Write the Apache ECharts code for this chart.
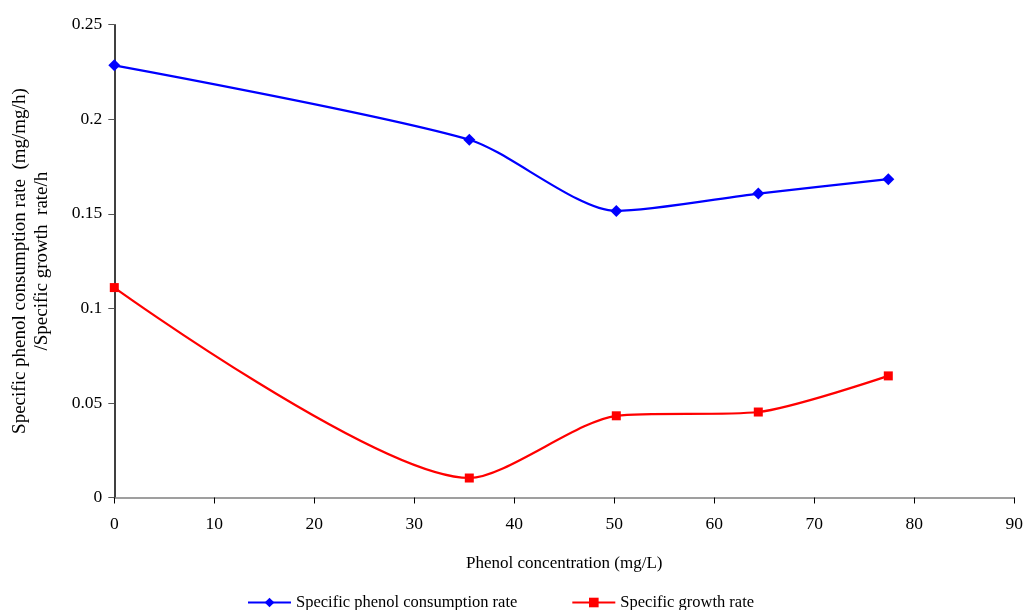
<!DOCTYPE html>
<html>
<head>
<meta charset="utf-8">
<script src="https://cdn.jsdelivr.net/npm/echarts@6/dist/echarts.min.js"></script>
<style>html,body{margin:0;padding:0;background:#fff;}#c{width:1024px;height:610px;}</style>
</head>
<body>
<div id="c"></div>
<script>
const concentration = [0, 35.5, 50.2, 64.4, 77.4];
const consumptionRate = [0.2285, 0.1892, 0.1515, 0.1607, 0.1683];
const growthRate = [0.111, 0.0103, 0.0432, 0.0452, 0.0643];
const seriesNames = ['Specific phenol consumption rate', 'Specific growth rate'];
const xTitle = 'Phenol concentration (mg/L)';
const yTitle = 'Specific phenol consumption rate  (mg/mg/h)\n/Specific growth  rate/h';

const font = 'Liberation Serif';
const chart = echarts.init(document.getElementById('c'));
chart.setOption({
  animation: false,
  backgroundColor: '#fff',
  textStyle: {fontFamily: font},
  grid: {left: 114.3, right: 9.7, top: 24.7, bottom: 112.5, containLabel: false, outerBoundsMode: 'none'},
  xAxis: {
    type: 'value', min: 0, max: 90, interval: 10,
    name: xTitle, nameLocation: 'middle', nameGap: 58,
    nameTextStyle: {fontFamily: font, fontSize: 17, color: '#000'},
    axisLine: {show: true, onZero: false, lineStyle: {color: '#808080', width: 1.5}},
    axisTick: {show: true, length: 6, lineStyle: {color: '#000'}},
    axisLabel: {fontFamily: font, fontSize: 17.5, color: '#000', margin: 18},
    splitLine: {show: false}
  },
  yAxis: {
    type: 'value', min: 0, max: 0.25, interval: 0.05,
    name: yTitle, nameLocation: 'middle', nameGap: 61, nameRotate: 90,
    nameTextStyle: {fontFamily: font, fontSize: 19, color: '#000', lineHeight: 22, align: 'center'},
    axisLine: {show: true, onZero: false, lineStyle: {color: '#000', width: 1.5}},
    axisTick: {show: true, length: 6, lineStyle: {color: '#555'}},
    axisLabel: {fontFamily: font, fontSize: 17.5, color: '#000', margin: 12},
    splitLine: {show: false}
  },
  legend: {
    top: 589, left: 242,
    itemWidth: 43, itemHeight: 12, itemGap: 54,
    textStyle: {fontFamily: font, fontSize: 16.5, color: '#000'},
    data: seriesNames
  },
  series: [
    {
      name: seriesNames[0], type: 'line', smooth: 0.25,
      data: concentration.map((x, i) => [x, consumptionRate[i]]),
      symbol: 'diamond', symbolSize: 12,
      lineStyle: {color: '#0000FF', width: 2.2},
      itemStyle: {color: '#0000FF'}
    },
    {
      name: seriesNames[1], type: 'line', smooth: 0.25,
      data: concentration.map((x, i) => [x, growthRate[i]]),
      symbol: 'rect', symbolSize: 9,
      lineStyle: {color: '#FF0000', width: 2.2},
      itemStyle: {color: '#FF0000'}
    }
  ]
});
</script>
</body>
</html>
